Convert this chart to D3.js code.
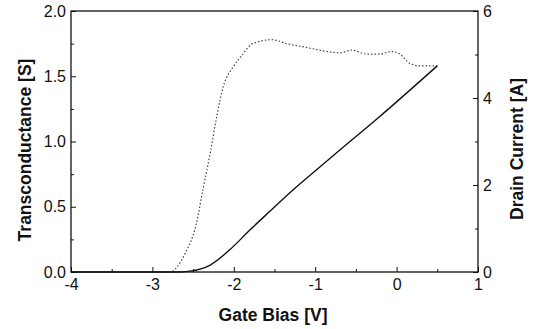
<!DOCTYPE html>
<html>
<head>
<meta charset="utf-8">
<script src="https://cdn.jsdelivr.net/npm/d3@7"></script>
<style>
  body { margin: 0; background: #fff; }
  svg { font-family: "Liberation Sans", Arial, sans-serif; }
</style>
</head>
<body>
<div id="chart"></div>
<script>
// gate bias [V] vs transconductance [S] (dotted)
const gmBias = [-4, -2.79, -2.6, -2.46, -2.38, -2.29, -2.21, -2.13, -2.01, -1.9, -1.77, -1.53, -1.35, -1.1, -0.86, -0.7, -0.55, -0.37, -0.21, -0.06, 0.04, 0.16, 0.28, 0.5];
const gmValues = [0, 0, 0.14, 0.37, 0.63, 0.91, 1.19, 1.42, 1.57, 1.66, 1.75, 1.78, 1.75, 1.72, 1.69, 1.68, 1.70, 1.67, 1.67, 1.69, 1.67, 1.60, 1.58, 1.58];

// gate bias [V] vs drain current [A] (solid)
const idBias = [-4, -2.7, -2.54, -2.29, -2.05, -1.8, -1.56, -1.27, -0.99, -0.7, -0.21, 0.5];
const idValues = [0, 0, 0.02, 0.16, 0.51, 0.97, 1.39, 1.89, 2.34, 2.80, 3.57, 4.74];

const xTicks = [-4, -3, -2, -1, 0, 1];
const gmTicks = [0, 0.5, 1.0, 1.5, 2.0];
const idTicks = [0, 2, 4, 6];

const W = 539, H = 329;
const margin = { top: 11, right: 61, bottom: 57, left: 71 };
const width = W - margin.left - margin.right;
const height = H - margin.top - margin.bottom;

const svg = d3.select('#chart').append('svg')
  .attr('width', W)
  .attr('height', H);

const g = svg.append('g')
  .attr('transform', `translate(${margin.left},${margin.top})`);

const x = d3.scaleLinear().domain([-4, 1]).range([0, width]);
const yL = d3.scaleLinear().domain([0, 2]).range([height, 0]);
const yR = d3.scaleLinear().domain([0, 6]).range([height, 0]);

// plain hyphen for negatives, like the original
const intFmt = d => String(d);

// minor ticks (inward)
const minor = (axis, scale, vals) => axis(scale).tickValues(vals).tickSize(3).tickFormat('');

g.append('g').attr('transform', `translate(0,${height})`)
  .call(minor(d3.axisTop, x, d3.range(-3.5, 1, 1)));
g.append('g')
  .call(minor(d3.axisRight, yL, [0.25, 0.75, 1.25, 1.75]));
g.append('g').attr('transform', `translate(${width},0)`)
  .call(minor(d3.axisLeft, yR, [1, 3, 5]));

// major axes: labels outside, tick marks inside
g.append('g').attr('transform', `translate(0,${height})`)
  .call(d3.axisBottom(x).tickValues(xTicks).tickSize(0).tickPadding(7).tickFormat(intFmt));
g.append('g').attr('transform', `translate(0,${height})`)
  .call(d3.axisTop(x).tickValues(xTicks).tickSize(5).tickFormat(''));

g.append('g')
  .call(d3.axisLeft(yL).tickValues(gmTicks).tickSize(0).tickPadding(5).tickFormat(d3.format('.1f')));
g.append('g')
  .call(d3.axisRight(yL).tickValues(gmTicks).tickSize(5).tickFormat(''));

g.append('g').attr('transform', `translate(${width},0)`)
  .call(d3.axisRight(yR).tickValues(idTicks).tickSize(0).tickPadding(5).tickFormat(intFmt));
g.append('g').attr('transform', `translate(${width},0)`)
  .call(d3.axisLeft(yR).tickValues(idTicks).tickSize(5).tickFormat(''));

g.selectAll('.domain').remove();
g.selectAll('.tick line').attr('stroke', '#111').attr('stroke-width', 1);
g.selectAll('.tick text').attr('font-size', 16).attr('fill', '#111');

// frame
g.append('rect')
  .attr('width', width).attr('height', height)
  .attr('fill', 'none').attr('stroke', '#111').attr('stroke-width', 1.3);

// curves
const gmData = gmBias.map((v, i) => ({ v, y: gmValues[i] }));
const idData = idBias.map((v, i) => ({ v, y: idValues[i] }));

g.append('path')
  .datum(gmData)
  .attr('fill', 'none')
  .attr('stroke', '#444')
  .attr('stroke-width', 1.2)
  .attr('stroke-dasharray', '1.5,2')
  .attr('d', d3.line().curve(d3.curveMonotoneX).x(d => x(d.v)).y(d => yL(d.y)));

g.append('path')
  .datum(idData)
  .attr('fill', 'none')
  .attr('stroke', '#111')
  .attr('stroke-width', 1.4)
  .attr('d', d3.line().curve(d3.curveMonotoneX).x(d => x(d.v)).y(d => yR(d.y)));

// titles
svg.append('text')
  .attr('x', 273).attr('y', 321)
  .attr('text-anchor', 'middle')
  .attr('font-size', 17.5).attr('font-weight', 'bold').attr('fill', '#111')
  .text('Gate Bias [V]');

svg.append('text')
  .attr('transform', `translate(31,150) rotate(-90)`)
  .attr('text-anchor', 'middle')
  .attr('font-size', 17.5).attr('font-weight', 'bold').attr('fill', '#111')
  .text('Transconductance [S]');

svg.append('text')
  .attr('transform', `translate(523,149) rotate(-90)`)
  .attr('text-anchor', 'middle')
  .attr('font-size', 17.5).attr('font-weight', 'bold').attr('fill', '#111')
  .text('Drain Current [A]');
</script>
</body>
</html>
